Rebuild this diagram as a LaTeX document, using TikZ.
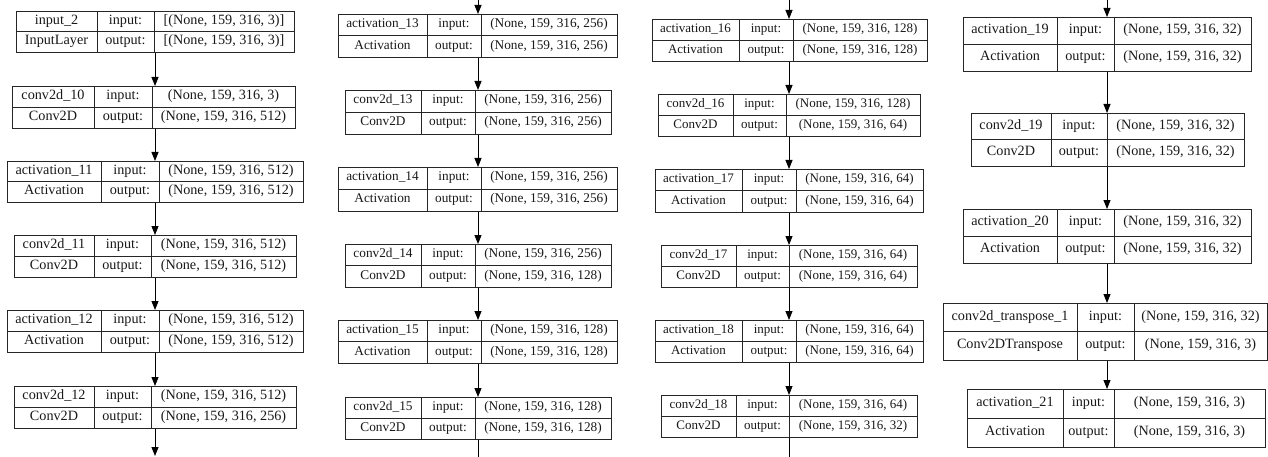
\documentclass[tikz,border=0pt]{standalone}
\usepackage{fontspec}
\setmainfont{Liberation Serif}
\usetikzlibrary{arrows.meta}
\pgfkeys{/lay/.is family,/lay/.cd,
  a/.store in=\LA, b/.store in=\LB, c/.store in=\LC, d/.store in=\LD,
  t/.store in=\LT, u/.store in=\LU, fs/.store in=\LF}
\tikzset{
  layerbox/.style={draw=black!85, line width=0.8pt, inner sep=0pt},
  cellline/.style={draw=black!85, line width=0.8pt},
  txt/.style={inner sep=0pt, text=black!90, text height=0.74em, text depth=0.18em,
    font=\fontsize{\LF pt}{\LF pt}\selectfont},
  arr/.style={draw=black, line width=0.9pt, -{Triangle[width=7pt,length=9pt]}},
  plainline/.style={draw=black, line width=0.9pt}
}
\newcommand\mylayer[6]{%
  \pgfqkeys{/lay}{#1}%
  \pgfmathsetmacro\LM{(\LT+\LU)/2}%
  \pgfmathsetmacro\LW{\LD-\LA}%
  \pgfmathsetmacro\LH{\LU-\LT}%
  \node[layerbox, minimum width=\LW pt, minimum height=\LH pt, anchor=north west] (#2) at (\LA,\LT) {};
  \draw[cellline] (\LB,\LT) -- (\LB,\LU) (\LC,\LT) -- (\LC,\LU) (\LA,\LM) -- (\LD,\LM);
  \node[txt] (#2-n) at ({(\LA+\LB)/2},{(\LT+\LM)/2}) {#3};
  \node[txt] (#2-t) at ({(\LA+\LB)/2},{(\LM+\LU)/2}) {#4};
  \node[txt] (#2-i) at ({(\LB+\LC)/2},{(\LT+\LM)/2}) {input:};
  \node[txt] (#2-o) at ({(\LB+\LC)/2},{(\LM+\LU)/2}) {output:};
  \node[txt] (#2-x) at ({(\LC+\LD)/2},{(\LT+\LM)/2}) {#5};
  \node[txt] (#2-y) at ({(\LC+\LD)/2},{(\LM+\LU)/2}) {#6};
}
\begin{document}
\begin{tikzpicture}[x=1pt,y=-1pt]
\useasboundingbox[fill=white] (0,0) rectangle (1268,457);
% column 1
\mylayer{a=16,b=97,c=154,d=294,t=11,u=52,fs=14.2}{in2}{input\_2}{InputLayer}{[(None, 159, 316, 3)]}{[(None, 159, 316, 3)]}
\mylayer{a=12,b=94,c=152,d=295,t=86,u=128}{c10}{conv2d\_10}{Conv2D}{(None, 159, 316, 3)}{(None, 159, 316, 512)}
\mylayer{a=7,b=101,c=159,d=303,t=161,u=202}{a11}{activation\_11}{Activation}{(None, 159, 316, 512)}{(None, 159, 316, 512)}
\mylayer{a=14,b=94,c=151,d=296,t=235,u=277}{c11}{conv2d\_11}{Conv2D}{(None, 159, 316, 512)}{(None, 159, 316, 512)}
\mylayer{a=7,b=101,c=159,d=303,t=310,u=352}{a12}{activation\_12}{Activation}{(None, 159, 316, 512)}{(None, 159, 316, 512)}
\mylayer{a=14,b=94,c=151,d=296,t=386,u=428}{c12}{conv2d\_12}{Conv2D}{(None, 159, 316, 512)}{(None, 159, 316, 256)}
% column 2
\mylayer{a=338,b=427,c=481,d=617,t=14,u=57,fs=13.3}{a13}{activation\_13}{Activation}{(None, 159, 316, 256)}{(None, 159, 316, 256)}
\mylayer{a=345,b=421,c=475,d=611,t=90,u=134}{c13}{conv2d\_13}{Conv2D}{(None, 159, 316, 256)}{(None, 159, 316, 256)}
\mylayer{a=338,b=427,c=481,d=617,t=167,u=211}{a14}{activation\_14}{Activation}{(None, 159, 316, 256)}{(None, 159, 316, 256)}
\mylayer{a=345,b=421,c=475,d=611,t=244,u=287}{c14}{conv2d\_14}{Conv2D}{(None, 159, 316, 256)}{(None, 159, 316, 128)}
\mylayer{a=338,b=427,c=481,d=617,t=320,u=363}{a15}{activation\_15}{Activation}{(None, 159, 316, 128)}{(None, 159, 316, 128)}
\mylayer{a=345,b=421,c=475,d=611,t=397,u=439}{c15}{conv2d\_15}{Conv2D}{(None, 159, 316, 128)}{(None, 159, 316, 128)}
% column 3
\mylayer{a=652,b=739,c=793,d=927,t=19,u=61,fs=13.0}{a16}{activation\_16}{Activation}{(None, 159, 316, 128)}{(None, 159, 316, 128)}
\mylayer{a=658,b=733,c=786,d=920,t=94,u=136}{c16}{conv2d\_16}{Conv2D}{(None, 159, 316, 128)}{(None, 159, 316, 64)}
\mylayer{a=655,b=742,c=796,d=923,t=169,u=212}{a17}{activation\_17}{Activation}{(None, 159, 316, 64)}{(None, 159, 316, 64)}
\mylayer{a=661,b=736,c=789,d=917,t=245,u=287}{c17}{conv2d\_17}{Conv2D}{(None, 159, 316, 64)}{(None, 159, 316, 64)}
\mylayer{a=655,b=742,c=796,d=923,t=320,u=362}{a18}{activation\_18}{Activation}{(None, 159, 316, 64)}{(None, 159, 316, 64)}
\mylayer{a=661,b=736,c=789,d=917,t=395,u=437}{c18}{conv2d\_18}{Conv2D}{(None, 159, 316, 64)}{(None, 159, 316, 32)}
% column 4
\mylayer{a=963,b=1057,c=1114,d=1251,t=17,u=71,fs=14.2}{a19}{activation\_19}{Activation}{(None, 159, 316, 32)}{(None, 159, 316, 32)}
\mylayer{a=971,b=1051,c=1107,d=1244,t=113,u=166}{c19}{conv2d\_19}{Conv2D}{(None, 159, 316, 32)}{(None, 159, 316, 32)}
\mylayer{a=963,b=1057,c=1114,d=1251,t=209,u=263}{a20}{activation\_20}{Activation}{(None, 159, 316, 32)}{(None, 159, 316, 32)}
\mylayer{a=943,b=1077,c=1134,d=1267,t=303,u=360}{ct1}{conv2d\_transpose\_1}{Conv2DTranspose}{(None, 159, 316, 32)}{(None, 159, 316, 3)}
\mylayer{a=967,b=1063,c=1114,d=1265,t=389,u=447}{a21}{activation\_21}{Activation}{(None, 159, 316, 3)}{(None, 159, 316, 3)}
% axis coordinates
\coordinate (x1) at (155,0);
\coordinate (x2) at (478,0);
\coordinate (x3) at (789,0);
\coordinate (x4) at (1107,0);
\coordinate (b1) at (155,456);
\coordinate (b2) at (478,457);
\coordinate (b3) at (789,457);
% connectors column 1
\draw[arr] (in2.south -| x1) -- (c10.north -| x1);
\draw[arr] (c10.south -| x1) -- (a11.north -| x1);
\draw[arr] (a11.south -| x1) -- (c11.north -| x1);
\draw[arr] (c11.south -| x1) -- (a12.north -| x1);
\draw[arr] (a12.south -| x1) -- (c12.north -| x1);
\draw[arr] (c12.south -| x1) -- (b1);
% column 2
\draw[arr] (x2) -- (a13.north -| x2);
\draw[arr] (a13.south -| x2) -- (c13.north -| x2);
\draw[arr] (c13.south -| x2) -- (a14.north -| x2);
\draw[arr] (a14.south -| x2) -- (c14.north -| x2);
\draw[arr] (c14.south -| x2) -- (a15.north -| x2);
\draw[arr] (a15.south -| x2) -- (c15.north -| x2);
\draw[plainline] (c15.south -| x2) -- (b2);
% column 3
\draw[arr] (x3) -- (a16.north -| x3);
\draw[arr] (a16.south -| x3) -- (c16.north -| x3);
\draw[arr] (c16.south -| x3) -- (a17.north -| x3);
\draw[arr] (a17.south -| x3) -- (c17.north -| x3);
\draw[arr] (c17.south -| x3) -- (a18.north -| x3);
\draw[arr] (a18.south -| x3) -- (c18.north -| x3);
\draw[plainline] (c18.south -| x3) -- (b3);
% column 4
\draw[arr] (x4) -- (a19.north -| x4);
\draw[arr] (a19.south -| x4) -- (c19.north -| x4);
\draw[arr] (c19.south -| x4) -- (a20.north -| x4);
\draw[arr] (a20.south -| x4) -- (ct1.north -| x4);
\draw[arr] (ct1.south -| x4) -- (a21.north -| x4);
\end{tikzpicture}
\end{document}
